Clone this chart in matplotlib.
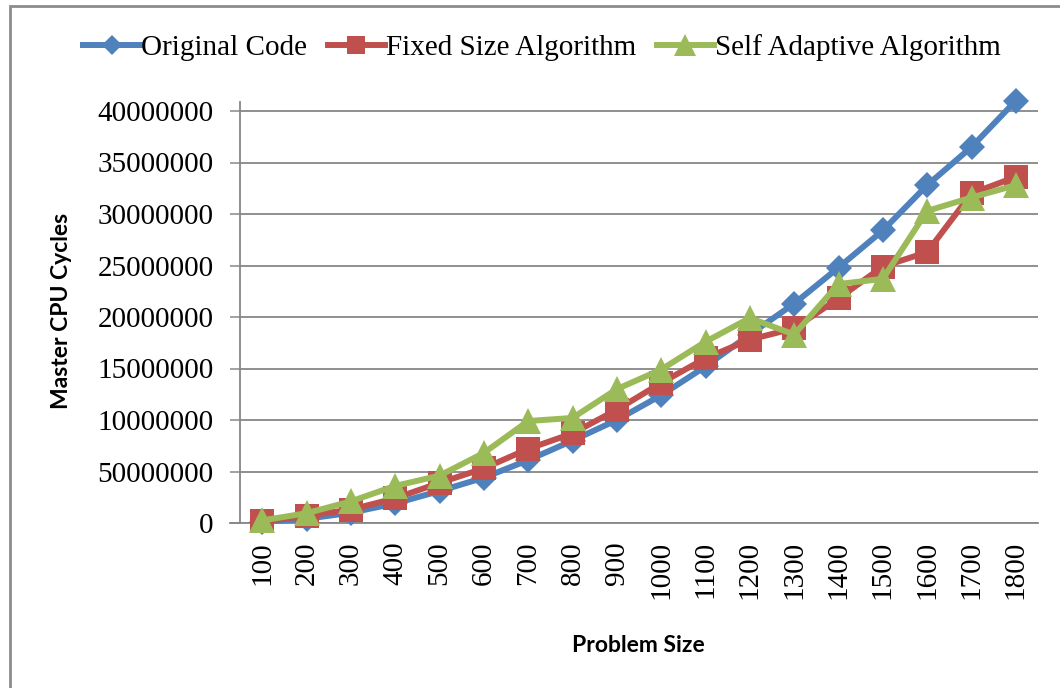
import matplotlib
matplotlib.use("Agg")
import matplotlib.pyplot as plt
from matplotlib.patches import Rectangle

# Problem sizes (categories) and measured master CPU cycles per algorithm
problem_sizes = ["100", "200", "300", "400", "500", "600", "700", "800", "900",
                 "1000", "1100", "1200", "1300", "1400", "1500", "1600", "1700", "1800"]

original_code = [100000, 400000, 1000000, 1900000, 3100000, 4400000, 6100000, 8000000,
                 10000000, 12400000, 15200000, 18300000, 21300000, 24800000, 28400000,
                 32800000, 36500000, 41000000]

fixed_size = [150000, 700000, 1300000, 2400000, 3900000, 5300000, 7200000, 8700000,
              11000000, 13600000, 16000000, 17800000, 18900000, 21800000, 24900000,
              26300000, 32000000, 33600000]

self_adaptive = [250000, 950000, 2100000, 3600000, 4600000, 6800000, 9900000, 10200000,
                 13000000, 14900000, 17600000, 19900000, 18300000, 23200000, 23700000,
                 30300000, 31600000, 32800000]

y_ticks = [0, 5000000, 10000000, 15000000, 20000000, 25000000, 30000000, 35000000, 40000000]
y_tick_labels = ["0", "50000000", "10000000", "15000000", "20000000",
                 "25000000", "30000000", "35000000", "40000000"]

series_names = ["Original Code", "Fixed Size Algorithm", "Self Adaptive Algorithm"]

BLUE = "#4F81BD"
RED = "#C0504D"
GREEN = "#9BBB59"
GRID = "#878787"

W, H = 1060, 688
fig = plt.figure(figsize=(W / 100, H / 100), dpi=100)
fig.patch.set_facecolor("white")

# outer chart frame
fig.patches.append(Rectangle((10 / W, -0.05), 1.2, 1 - 6 / H + 0.05,
                             transform=fig.transFigure, fill=False,
                             edgecolor="#8C8C8C", linewidth=2.0, zorder=0))

left, right = 240 / W, 1038 / W
bottom, top = (H - 523) / H, (H - 102) / H
ax = fig.add_axes([left, bottom, right - left, top - bottom])

x = list(range(len(problem_sizes)))
style = dict(lw=4.3, markeredgewidth=0, clip_on=False, solid_joinstyle="round")
ax.plot(x, original_code, color=BLUE, marker="D", ms=13,
        label=series_names[0], zorder=3, **style)
ax.plot(x, fixed_size, color=RED, marker="s", ms=17,
        label=series_names[1], zorder=4, **style)
ax.plot(x, self_adaptive, color=GREEN, marker="^", ms=19,
        label=series_names[2], zorder=5, **style)

ax.set_xlim(-0.5, len(problem_sizes) - 0.5)
ax.set_ylim(0, 40000000 * (523 - 102) / 412)

ax.set_yticks(y_ticks)
ax.set_yticklabels(y_tick_labels)
ax.set_xticks(x)
ax.set_xticklabels(problem_sizes, rotation=90, va="top", ha="center")

serif = "Liberation Serif"
for lab in ax.get_yticklabels() + ax.get_xticklabels():
    lab.set_fontfamily(serif)
    lab.set_fontsize(21)
    lab.set_color("black")

ax.tick_params(axis="y", length=7, width=1.1, color=GRID, pad=12)
ax.tick_params(axis="x", length=0, pad=13)

ax.grid(axis="y", color=GRID, linewidth=1.3)
ax.set_axisbelow(True)
for side in ("top", "right"):
    ax.spines[side].set_visible(False)
for side in ("left", "bottom"):
    ax.spines[side].set_color(GRID)
    ax.spines[side].set_linewidth(1.3)

# bottom axis line continues left to the end of the tick marks
ax.plot([-0.5 - 10 / 44.33, -0.5], [0, 0], color=GRID, lw=1.3,
        clip_on=False, zorder=2)

fig.text(62 / W, 1 - 311 / H, "Master CPU Cycles", rotation=90, ha="center",
         va="center", fontfamily="Lato", fontweight="bold", fontsize=16.5)
fig.text(638 / W, 1 - 645 / H, "Problem Size", ha="center", va="center",
         fontfamily="Lato", fontweight="bold", fontsize=16.5)

leg = fig.legend(loc="center", bbox_to_anchor=(542 / W, 1 - 48 / H), ncol=3,
                 frameon=False, prop={"family": serif, "size": 21},
                 handlelength=1.95, handletextpad=0.05, columnspacing=0.7,
                 borderaxespad=0, markerscale=0.8)

fig.savefig("out.png", dpi=100, facecolor="white")
